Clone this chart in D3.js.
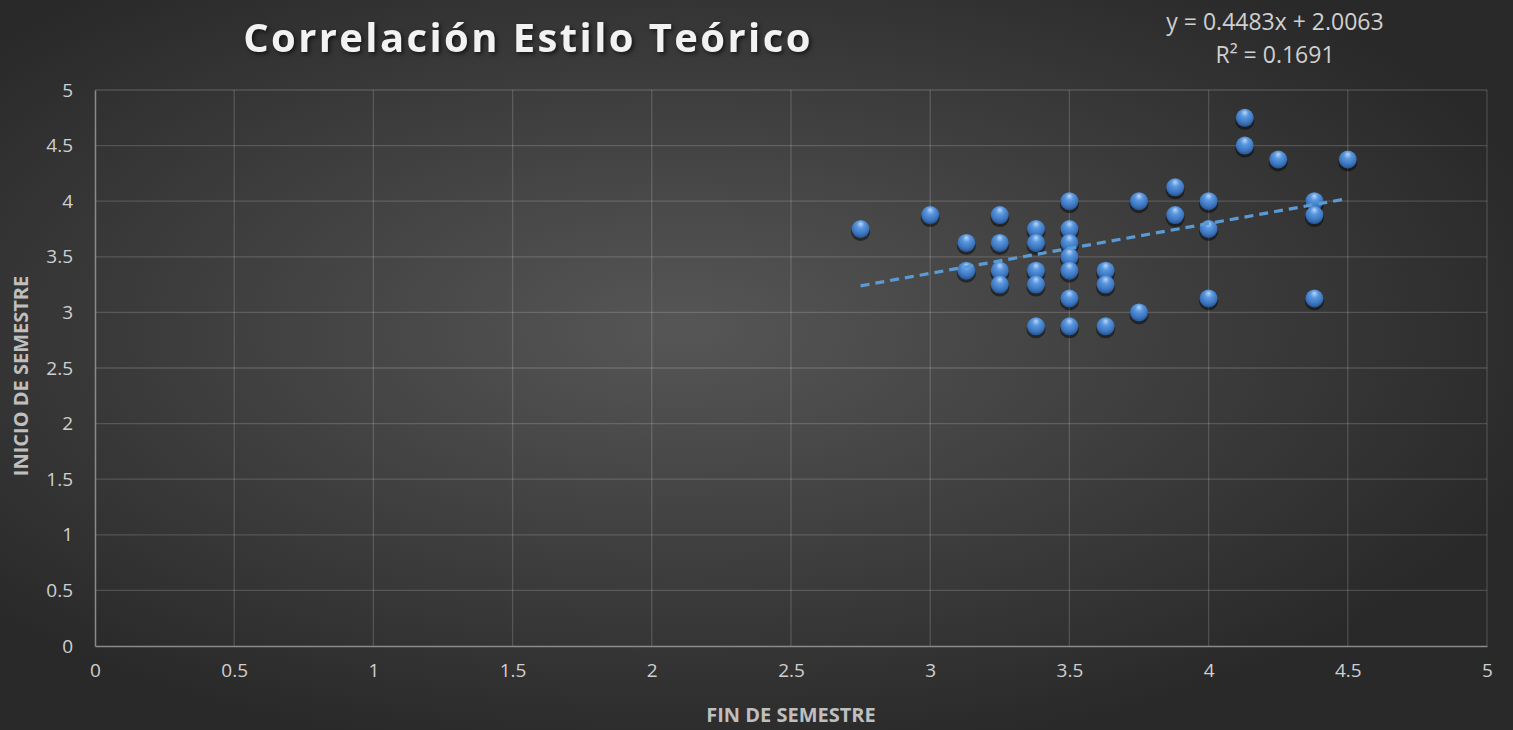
<!DOCTYPE html>
<html>
<head>
<meta charset="utf-8">
<script src="https://cdn.jsdelivr.net/npm/d3@7"></script>
<style>
  body { margin: 0; background: #333; overflow: hidden; }
  svg { display: block; font-family: "Open Sans", "Liberation Sans", sans-serif; }
</style>
</head>
<body>
<div id="chart"></div>
<script>
// scatter data: fin de semestre (x) vs inicio de semestre (y)
var finSemestre = [2.75, 3.0, 3.13, 3.13, 3.25, 3.25, 3.25, 3.25, 3.38, 3.38, 3.38, 3.38, 3.38,
  3.5, 3.5, 3.5, 3.5, 3.5, 3.5, 3.5, 3.63, 3.63, 3.63, 3.75, 3.75, 3.88, 3.88,
  4.0, 4.0, 4.0, 4.13, 4.13, 4.25, 4.5, 4.38, 4.38, 4.38];
var inicioSemestre = [3.75, 3.875, 3.625, 3.375, 3.875, 3.625, 3.375, 3.25, 3.75, 3.625, 3.375, 3.25, 2.875,
  4.0, 3.75, 3.625, 3.5, 3.375, 3.125, 2.875, 3.375, 3.25, 2.875, 4.0, 3.0, 4.125, 3.875,
  4.0, 3.75, 3.125, 4.75, 4.5, 4.375, 4.375, 4.0, 3.875, 3.125];
var xTicks = [0, 0.5, 1, 1.5, 2, 2.5, 3, 3.5, 4, 4.5, 5];
var yTicks = [0, 0.5, 1, 1.5, 2, 2.5, 3, 3.5, 4, 4.5, 5];
var slope = 0.4483, intercept = 2.0063, rSquared = 0.1691;

var W = 1513, H = 730;
var margin = {top: 90, right: 26, bottom: 84, left: 95};

var svg = d3.select("#chart").append("svg")
    .attr("width", W).attr("height", H);

var defs = svg.append("defs");
var bg = defs.append("radialGradient").attr("id", "bg")
    .attr("cx", "45%").attr("cy", "45%").attr("r", "60%");
bg.append("stop").attr("offset", "0%").attr("stop-color", "#565656");
bg.append("stop").attr("offset", "100%").attr("stop-color", "#292929");

var ball = defs.append("radialGradient").attr("id", "ball")
    .attr("cx", "50%").attr("cy", "35%").attr("r", "60%").attr("fx", "50%").attr("fy", "20%");
ball.append("stop").attr("offset", "0%").attr("stop-color", "#bcd6f5");
ball.append("stop").attr("offset", "35%").attr("stop-color", "#5a98e0");
ball.append("stop").attr("offset", "80%").attr("stop-color", "#3b74bd");
ball.append("stop").attr("offset", "100%").attr("stop-color", "#2a5a9a");

svg.append("rect").attr("width", W).attr("height", H).attr("fill", "url(#bg)");

var x = d3.scaleLinear().domain([0, 5]).range([margin.left, W - margin.right]);
var y = d3.scaleLinear().domain([0, 5]).range([H - margin.bottom, margin.top]);

// gridlines
svg.append("g").selectAll("line").data(xTicks.slice(1)).enter().append("line")
    .attr("x1", function(d) { return x(d); }).attr("x2", function(d) { return x(d); })
    .attr("y1", y(0)).attr("y2", y(5))
    .attr("stroke", "rgba(255,255,255,0.16)").attr("stroke-width", 1.3);
svg.append("g").selectAll("line").data(yTicks.slice(1)).enter().append("line")
    .attr("y1", function(d) { return y(d); }).attr("y2", function(d) { return y(d); })
    .attr("x1", x(0)).attr("x2", x(5))
    .attr("stroke", "rgba(255,255,255,0.16)").attr("stroke-width", 1.3);

// axes
var xAxis = svg.append("g")
    .attr("transform", "translate(0," + y(0) + ")")
    .call(d3.axisBottom(x).tickValues(xTicks).tickSize(0).tickPadding(20).tickFormat(d3.format("")));
var yAxis = svg.append("g")
    .attr("transform", "translate(" + x(0) + ",0)")
    .call(d3.axisLeft(y).tickValues(yTicks).tickSize(0).tickPadding(22).tickFormat(d3.format("")));
[xAxis, yAxis].forEach(function(a) {
  a.select(".domain").attr("stroke", "#8a8a8a").attr("stroke-width", 1.5);
  a.selectAll("text").attr("fill", "#d0d0d0").style("font-size", "19px")
    .style("font-family", "'Open Sans', sans-serif");
});
xAxis.selectAll("text").attr("dy", "0.6em");

// axis titles
svg.append("text")
    .attr("x", (x(0) + x(5)) / 2).attr("y", 722)
    .attr("text-anchor", "middle").attr("fill", "#bfbfbf")
    .style("font-size", "20px").style("font-weight", "bold")
    .text("FIN DE SEMESTRE");
svg.append("text")
    .attr("transform", "translate(28,376) rotate(-90)")
    .attr("text-anchor", "middle").attr("fill", "#bfbfbf")
    .style("font-size", "20px").style("font-weight", "bold")
    .text("INICIO DE SEMESTRE");

// title
svg.append("text")
    .attr("x", 528).attr("y", 52)
    .attr("text-anchor", "middle").attr("fill", "#f2f2f2")
    .style("font-size", "40px").style("font-weight", "bold").style("letter-spacing", "2.4px")
    .style("filter", "drop-shadow(2px 2px 2px rgba(0,0,0,0.6))")
    .text("Correlación Estilo Teórico");

// equation
svg.append("text")
    .attr("x", 1275).attr("y", 30)
    .attr("text-anchor", "middle").attr("fill", "#d0d0d0").style("font-size", "23px")
    .text("y = " + slope + "x + " + intercept.toFixed(4));
svg.append("text")
    .attr("x", 1275).attr("y", 63)
    .attr("text-anchor", "middle").attr("fill", "#d0d0d0").style("font-size", "23px")
    .text("R² = " + rSquared);

var pts = finSemestre.map(function(d, i) { return {x: d, y: inicioSemestre[i]}; });

// shadows
svg.append("g").selectAll("ellipse").data(pts).enter().append("ellipse")
    .attr("cx", function(d) { return x(d.x); })
    .attr("cy", function(d) { return y(d.y) + 3; })
    .attr("rx", 9.5).attr("ry", 9)
    .attr("fill", "rgba(0,0,0,0.45)");

// points
svg.append("g").selectAll("circle").data(pts).enter().append("circle")
    .attr("cx", function(d) { return x(d.x); })
    .attr("cy", function(d) { return y(d.y); })
    .attr("r", 9)
    .attr("fill", "url(#ball)");

// trendline
var xExt = d3.extent(finSemestre);
svg.append("line")
    .attr("x1", x(xExt[0])).attr("y1", y(slope * xExt[0] + intercept))
    .attr("x2", x(xExt[1])).attr("y2", y(slope * xExt[1] + intercept))
    .attr("stroke", "#5b9bd5").attr("stroke-width", 3.2)
    .attr("stroke-dasharray", "9,6");
</script>
</body>
</html>
